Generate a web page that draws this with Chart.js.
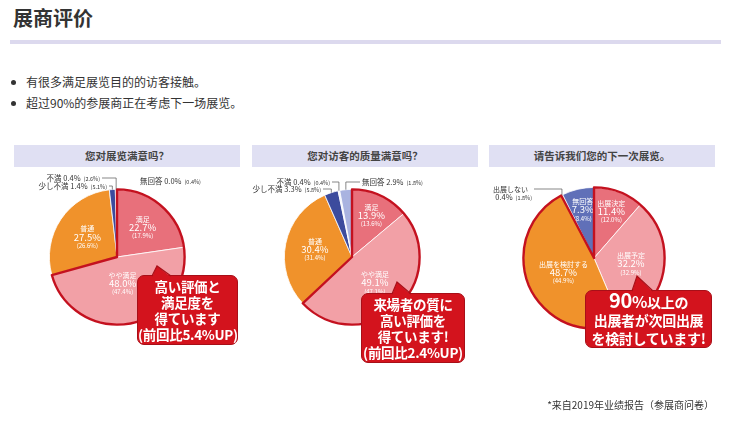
<!DOCTYPE html>
<html><head><meta charset="utf-8">
<script src="https://cdn.jsdelivr.net/npm/chart.js@4.4.0/dist/chart.umd.min.js"></script>
<style>
body{margin:0;width:740px;height:421px;background:#fff;position:relative;overflow:hidden;font-family:'Noto Sans CJK SC',sans-serif;color:#333}
.abs{position:absolute}
#title{left:13px;top:4px;font-size:20px;font-weight:bold;line-height:28px;color:#333}
#rule{left:10px;top:40px;width:711px;height:4px;background:#dcd9ee}
.bullet{left:11px;font-size:12px;line-height:16px;color:#333;white-space:nowrap}
.bullet:before{content:'';display:inline-block;width:5px;height:5px;border-radius:50%;background:#333;margin-right:10px;vertical-align:middle;position:relative;top:-1px}
.hdr{top:145px;height:22px;width:226px;background:#e0e0f3;font-size:10.5px;line-height:22px;text-align:center;font-weight:bold;color:#444}
.call{background:#d3131d;border:1.5px solid #a80f18;border-radius:7px;color:#fff;font-family:'Noto Sans CJK JP',sans-serif;font-weight:bold;text-align:center;font-size:13.5px;line-height:16px;box-sizing:border-box;display:flex;flex-direction:column;justify-content:center;white-space:nowrap;letter-spacing:-0.3px}
#foot{right:26px;top:397px;font-size:10px;color:#333;white-space:nowrap}
svg.abs{left:0;top:0}
</style>
</head><body>
<div id="title" class="abs">展商评价</div>
<div id="rule" class="abs"></div>
<div class="abs bullet" style="top:74px">有很多满足展览目的的访客接触。</div>
<div class="abs bullet" style="top:95px">超过90%的参展商正在考虑下一场展览。</div>

<div class="abs hdr" style="left:14px">您对展览满意吗？</div>
<div class="abs hdr" style="left:252px">您对访客的质量满意吗？</div>
<div class="abs hdr" style="left:489px">请告诉我们您的下一次展览。</div>

<canvas id="c1" class="abs" width="226" height="200" style="left:14px;top:168px"></canvas>
<canvas id="c2" class="abs" width="236" height="200" style="left:246px;top:168px"></canvas>
<canvas id="c3" class="abs" width="226" height="200" style="left:489px;top:168px"></canvas>

<div class="abs call" style="left:137px;top:275px;width:101px;height:70px"><div>高い評価と</div><div>満足度を</div><div>得ています</div><div>(前回比5.4%UP)</div></div>
<div class="abs call" style="left:361px;top:293px;width:104px;height:70px"><div>来場者の質に</div><div>高い評価を</div><div>得ています!</div><div>(前回比2.4%UP)</div></div>
<div class="abs call" style="left:585px;top:290px;width:127px;height:58px;font-size:14px;line-height:18px"><div><span style="font-size:20px">90</span><span style="font-size:16px">%</span>以上の</div><div>出展者が次回出展</div><div>を検討しています!</div></div>

<svg class="abs" width="740" height="421">
  <polygon points="152,277 157,266 171,277" fill="#d3131d"/>
  <polyline points="152,276 157,266 171,276" fill="none" stroke="#a80f18" stroke-width="1.2"/>
  <polygon points="392,295 397,282 411,295" fill="#d3131d"/>
  <polyline points="392,294 397,282 411,294" fill="none" stroke="#a80f18" stroke-width="1.2"/>
  <polygon points="632,292 637,276 653,292" fill="#d3131d"/>
  <polyline points="632,291 637,276 653,291" fill="none" stroke="#a80f18" stroke-width="1.2"/>
</svg>

<div id="foot" class="abs">*来自2019年业绩报告（参展商问卷）</div>

<script>
// ---- data ----
const names1 = ['満足','やや満足','普通','少し不満','不満','無回答'];
const values1 = [22.7, 48.0, 27.5, 1.4, 0.4, 0.0];
const prev1 = [17.9, 47.4, 26.6, 5.1, 2.6, 0.4];

const names2 = ['満足','やや満足','普通','少し不満','不満','無回答'];
const values2 = [13.9, 49.1, 30.4, 3.3, 0.4, 2.9];
const prev2 = [13.6, 47.1, 31.4, 5.8, 0.4, 1.8];

const names3 = ['出展決定','出展予定','出展を検討する','出展しない','無回答'];
const values3 = [11.4, 32.2, 48.7, 0.4, 7.3];
const prev3 = [12.0, 32.9, 44.9, 1.8, 8.4];

// ---- styles ----
const colors1 = ['#e8707b','#f2a0a6','#f0922b','#3c4b9d','#eef0fa','#cfd4ee'];
const colors2 = ['#e8707b','#f2a0a6','#f0922b','#3c4b9d','#eef0fa','#a9b3e0'];
const colors3 = ['#e8707b','#f2a0a6','#f0922b','#f4f4f4','#6070b8'];
// inside-label distance from centre (fraction of radius)
const labelDist1 = [0.58, 0.40, 0.53];
const labelDist2 = [0.68, 0.51, 0.56];
const labelDist3 = [0.70, 0.53, 0.48, 0, 0.70];

const JP = "'Noto Sans CJK JP', sans-serif";

function fmt(v){ return v.toFixed(1) + '%'; }

const insideLabels = {
  id:'insideLabels',
  afterDatasetsDraw(chart, args, opts){
    const ctx = chart.ctx;
    const meta = chart.getDatasetMeta(0);
    const vals = chart.data.datasets[0].data;
    meta.data.forEach((arc, i) => {
      if (vals[i] < 5) return;
      const mid = (arc.startAngle + arc.endAngle) / 2;
      const f = opts.radius[i];
      const x = arc.x + Math.cos(mid) * arc.outerRadius * f;
      const y = arc.y + Math.sin(mid) * arc.outerRadius * f;
      ctx.save();
      ctx.fillStyle = '#fff';
      ctx.textAlign = 'center';
      ctx.textBaseline = 'middle';
      ctx.font = '7px ' + JP;
      ctx.fillText(chart.data.labels[i], x, y - 8.5);
      ctx.font = '9.5px ' + JP;
      ctx.fillText(fmt(vals[i]), x, y);
      ctx.font = '6px ' + JP;
      ctx.fillText('(' + fmt(opts.prev[i]) + ')', x, y + 8.5);
      ctx.restore();
    });
  }
};

const groupOutline = {
  id:'groupOutline',
  afterDatasetsDraw(chart, args, opts){
    const ctx = chart.ctx;
    const meta = chart.getDatasetMeta(0);
    const a = meta.data[opts.from], b = meta.data[opts.to];
    const r = a.outerRadius;
    ctx.save();
    ctx.strokeStyle = '#c4111f';
    ctx.lineWidth = 2.4;
    ctx.lineJoin = 'round';
    ctx.beginPath();
    ctx.moveTo(a.x, a.y);
    ctx.lineTo(a.x + Math.cos(a.startAngle) * r, a.y + Math.sin(a.startAngle) * r);
    ctx.arc(a.x, a.y, r, a.startAngle, b.endAngle);
    ctx.closePath();
    ctx.stroke();
    ctx.restore();
  }
};

const outsideLabels = {
  id:'outsideLabels',
  afterDatasetsDraw(chart, args, opts){
    const ctx = chart.ctx;
    const meta = chart.getDatasetMeta(0);
    const vals = chart.data.datasets[0].data;
    (opts.items || []).forEach(it => {
      const i = it.index;
      const main = (it.noName ? '' : chart.data.labels[i] + ' ') + fmt(vals[i]);
      const sub = '(' + fmt(opts.prev[i]) + ')';
      ctx.save();
      ctx.fillStyle = '#333';
      ctx.textBaseline = 'middle';
      let x0, x1;
      ctx.font = '7.5px ' + JP;
      const w1 = ctx.measureText(main).width;
      ctx.font = '5.5px ' + JP;
      const w2 = ctx.measureText(sub).width;
      const w = w1 + 3 + w2;
      if (it.align === 'right') { x0 = it.x - w; x1 = it.x; } else { x0 = it.x; x1 = it.x + w; }
      if (it.topLine) {
        ctx.font = '7px ' + JP;
        ctx.textAlign = 'right';
        ctx.fillText(chart.data.labels[i], it.x - 4, it.y - 8);
        ctx.textAlign = 'left';
      }
      ctx.font = '7.5px ' + JP;
      ctx.textAlign = 'left';
      ctx.fillText(main, x0, it.y);
      ctx.font = '5.5px ' + JP;
      ctx.fillText(sub, x0 + w1 + 3, it.y + 0.5);
      if (it.leader) {
        const arc = meta.data[i];
        const mid = (arc.startAngle + arc.endAngle) / 2;
        const px = arc.x + Math.cos(mid) * arc.outerRadius;
        const py = arc.y + Math.sin(mid) * arc.outerRadius;
        const ly = it.topLine ? it.y - 8 : it.y;
        ctx.strokeStyle = '#555';
        ctx.lineWidth = 0.7;
        ctx.beginPath();
        if (it.align === 'right') { ctx.moveTo(x1 + 2, ly); } else { ctx.moveTo(x0 - 2, ly); }
        ctx.lineTo(px, ly);
        ctx.lineTo(px, py);
        ctx.stroke();
      }
      ctx.restore();
    });
  }
};

function makePie(id, names, values, prev, colors, dist, pad, group, items){
  new Chart(document.getElementById(id), {
    type:'pie',
    data:{ labels:names, datasets:[{ data:values, backgroundColor:colors, borderColor:'#ffffff', borderWidth:0.8 }] },
    options:{
      responsive:false, animation:false, devicePixelRatio:1,
      layout:{ padding:pad },
      plugins:{
        legend:{display:false}, tooltip:{enabled:false},
        insideLabels:{ prev:prev, radius:dist },
        groupOutline:group,
        outsideLabels:{ prev:prev, items:items }
      }
    },
    plugins:[insideLabels, groupOutline, outsideLabels]
  });
}

// canvas coords
makePie('c1', names1, values1, prev1, colors1, labelDist1,
  {left:35, top:21, right:55, bottom:43}, {from:0, to:1},
  [
    {index:4, align:'right', x:86, y:10, leader:true},
    {index:3, align:'right', x:93, y:18, leader:true},
    {index:5, align:'left', x:126, y:13, leader:false}
  ]);
makePie('c2', names2, values2, prev2, colors2, labelDist2,
  {left:38, top:21, right:62, bottom:43}, {from:0, to:1},
  [
    {index:4, align:'right', x:84, y:14, leader:true},
    {index:3, align:'right', x:75, y:21, leader:true},
    {index:5, align:'left', x:116, y:14, leader:true}
  ]);
makePie('c3', names3, values3, prev3, colors3, labelDist3,
  {left:34, top:19, right:50, bottom:39}, {from:0, to:2},
  [
    {index:3, align:'right', x:43, y:29, leader:true, noName:true, topLine:true}
  ]);
</script>
</body></html>
